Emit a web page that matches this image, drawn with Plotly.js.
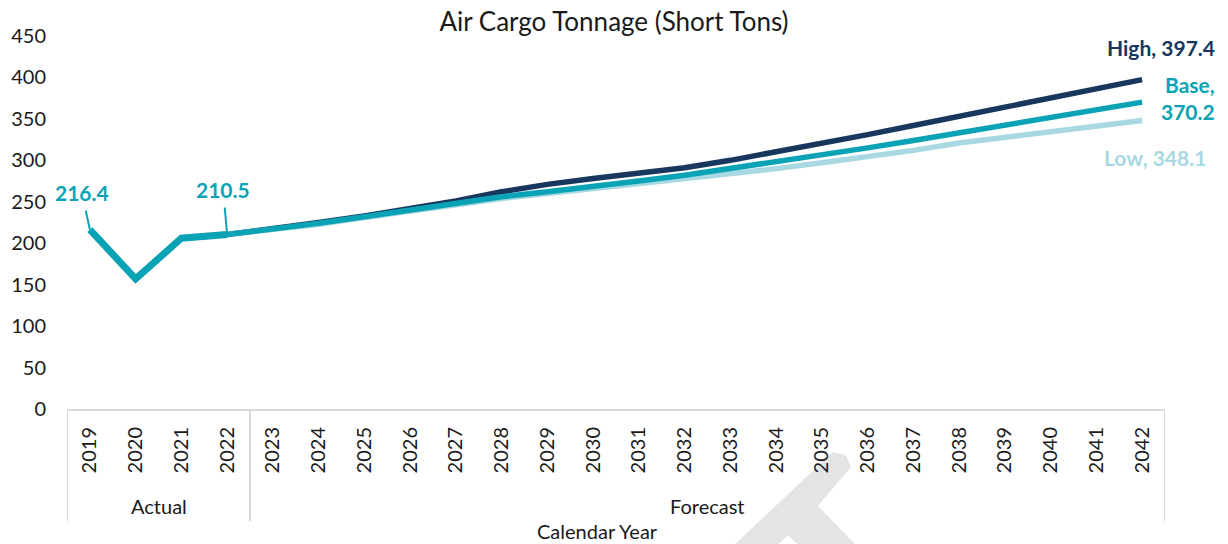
<!DOCTYPE html>
<html>
<head>
<meta charset="utf-8">
<script src="https://cdn.plot.ly/plotly-3.0.1.min.js"></script>
<style>html,body{margin:0;padding:0;background:#fff;}#chart{width:1228px;height:544px;}</style>
</head>
<body>
<div id="chart"></div>
<script>
// ---- Data ----
const years = ["2019","2020","2021","2022","2023","2024","2025","2026","2027","2028","2029","2030",
               "2031","2032","2033","2034","2035","2036","2037","2038","2039","2040","2041","2042"];
const actual = [216.4, 157, 206, 210.5, null,null,null,null,null,null,null,null,
                null,null,null,null,null,null,null,null,null,null,null,null];
const highForecast = [null,null,null,210.5, 217, 225, 233, 242, 251, 262, 271, 278,
                      284, 291, 300, 310, 320, 331, 342, 353, 364, 375, 386, 397.4];
const baseForecast = [null,null,null,210.5, 217, 224, 232, 240, 248, 256, 262, 268,
                      275, 282, 290, 298, 306, 315, 324, 333, 342, 351, 360, 370.2];
const lowForecast  = [null,null,null,210.5, 216, 223, 231, 239, 247, 254, 260, 266,
                      271, 277, 284, 290, 297, 304, 312, 321, 328, 335, 342, 348.1];
const groupNames = ["Actual", "Forecast"];
const groupSizes = [4, 20];
const yTicks = [0, 50, 100, 150, 200, 250, 300, 350, 400, 450];

const cHigh = "#17375E", cBase = "#0AA3B5", cLow = "#A8D8E2";
const font = "Lato, 'Open Sans', sans-serif";

const traces = [
  {x: years, y: highForecast, type: "scatter", mode: "lines", name: "High",
   line: {color: cHigh, width: 5.5}, hoverinfo: "skip"},
  {x: years, y: lowForecast, type: "scatter", mode: "lines", name: "Low",
   line: {color: cLow, width: 5.5}, hoverinfo: "skip"},
  {x: years, y: baseForecast, type: "scatter", mode: "lines", name: "Base",
   line: {color: cBase, width: 5.5}, hoverinfo: "skip"},
  {x: years, y: actual, type: "scatter", mode: "lines", name: "Actual",
   line: {color: cBase, width: 7}, hoverinfo: "skip"}
];

const last = years.length - 1;
const annotations = [
  {x: 0, y: actual[0], xref: "x", yref: "y", text: "<b>" + actual[0].toFixed(1) + "</b>",
   showarrow: true, arrowhead: 0, arrowwidth: 2, arrowcolor: cBase, ax: -8, ay: -37,
   font: {family: font, size: 21, color: cBase}, borderpad: 5},
  {x: 3, y: actual[3], xref: "x", yref: "y", text: "<b>" + actual[3].toFixed(1) + "</b>",
   showarrow: true, arrowhead: 0, arrowwidth: 2, arrowcolor: cBase, ax: -4, ay: -45,
   font: {family: font, size: 21, color: cBase}, borderpad: 5},
  {x: last, y: highForecast[last], xref: "x", yref: "y", showarrow: false,
   text: "<b>High, " + highForecast[last].toFixed(1) + "</b>", xanchor: "right", yanchor: "middle",
   xshift: 75, yshift: 32, font: {family: font, size: 21, color: cHigh}},
  {x: last, y: baseForecast[last], xref: "x", yref: "y", showarrow: false,
   text: "<b>Base,<br>" + baseForecast[last].toFixed(1) + "</b>", xanchor: "right", yanchor: "middle",
   align: "right", xshift: 75, yshift: 4, font: {family: font, size: 21, color: cBase}},
  {x: last, y: lowForecast[last], xref: "x", yref: "y", showarrow: false,
   text: "<b>Low, " + lowForecast[last].toFixed(1) + "</b>", xanchor: "right", yanchor: "middle",
   xshift: 66, yshift: -37, font: {family: font, size: 21, color: cLow}},
  {x: 0.483, y: -0.327, xref: "paper", yref: "paper", showarrow: false, text: "Calendar Year",
   xanchor: "center", yanchor: "middle", font: {family: font, size: 20, color: "#1a1a1a"}}
];

const shapes = [];
// Watermark fragment
const wm = [[833,452],[846,455],[851,467],[818,506],[855,544],[797,544],[788,535],[779,544],[735,544]];
const toP = p => ((p[0]-67)/1098).toFixed(4) + "," + ((409-p[1])/373).toFixed(4);
shapes.push({type: "path", xref: "paper", yref: "paper", layer: "below",
  path: "M" + wm.map(toP).join(" L") + " Z", fillcolor: "#E4E4E4", line: {width: 0}});

// Group dividers and labels
let start = -0.5;
shapes.push({type: "line", xref: "x", yref: "paper", x0: start, x1: start, y0: 0, y1: -0.30,
  line: {color: "#D9D9D9", width: 2}});
groupNames.forEach((g, i) => {
  const end = start + groupSizes[i];
  shapes.push({type: "line", xref: "x", yref: "paper", x0: end, x1: end, y0: 0, y1: -0.30,
    line: {color: "#D9D9D9", width: 2}});
  annotations.push({x: (start + end) / 2, y: -0.26, xref: "x", yref: "paper", showarrow: false,
    text: g, xanchor: "center", yanchor: "middle", font: {family: font, size: 20, color: "#1a1a1a"}});
  start = end;
});

const layout = {
  width: 1228, height: 544,
  margin: {l: 67, r: 63, t: 36, b: 135},
  paper_bgcolor: "#fff", plot_bgcolor: "#fff",
  showlegend: false,
  title: {text: "Air Cargo Tonnage (Short Tons)", x: 0.5, xref: "container", xanchor: "center",
          y: 0.96, yref: "container", yanchor: "middle",
          font: {family: font, size: 26, color: "#1a1a1a"}},
  xaxis: {type: "category", range: [-0.5, 23.5], tickangle: -90, showgrid: false, zeroline: false,
          showline: true, linecolor: "#D9D9D9", linewidth: 2, ticks: "", ticklabelstandoff: 8,
          tickfont: {family: font, size: 20, color: "#1a1a1a"}, fixedrange: true},
  yaxis: {range: [0, 450], tickvals: yTicks, showgrid: false, zeroline: false, showline: false,
          ticks: "", ticklabelstandoff: 20, tickfont: {family: font, size: 20, color: "#1a1a1a"},
          fixedrange: true},
  annotations: annotations,
  shapes: shapes
};

Plotly.newPlot("chart", traces, layout, {displayModeBar: false, staticPlot: true});
</script>
</body>
</html>
